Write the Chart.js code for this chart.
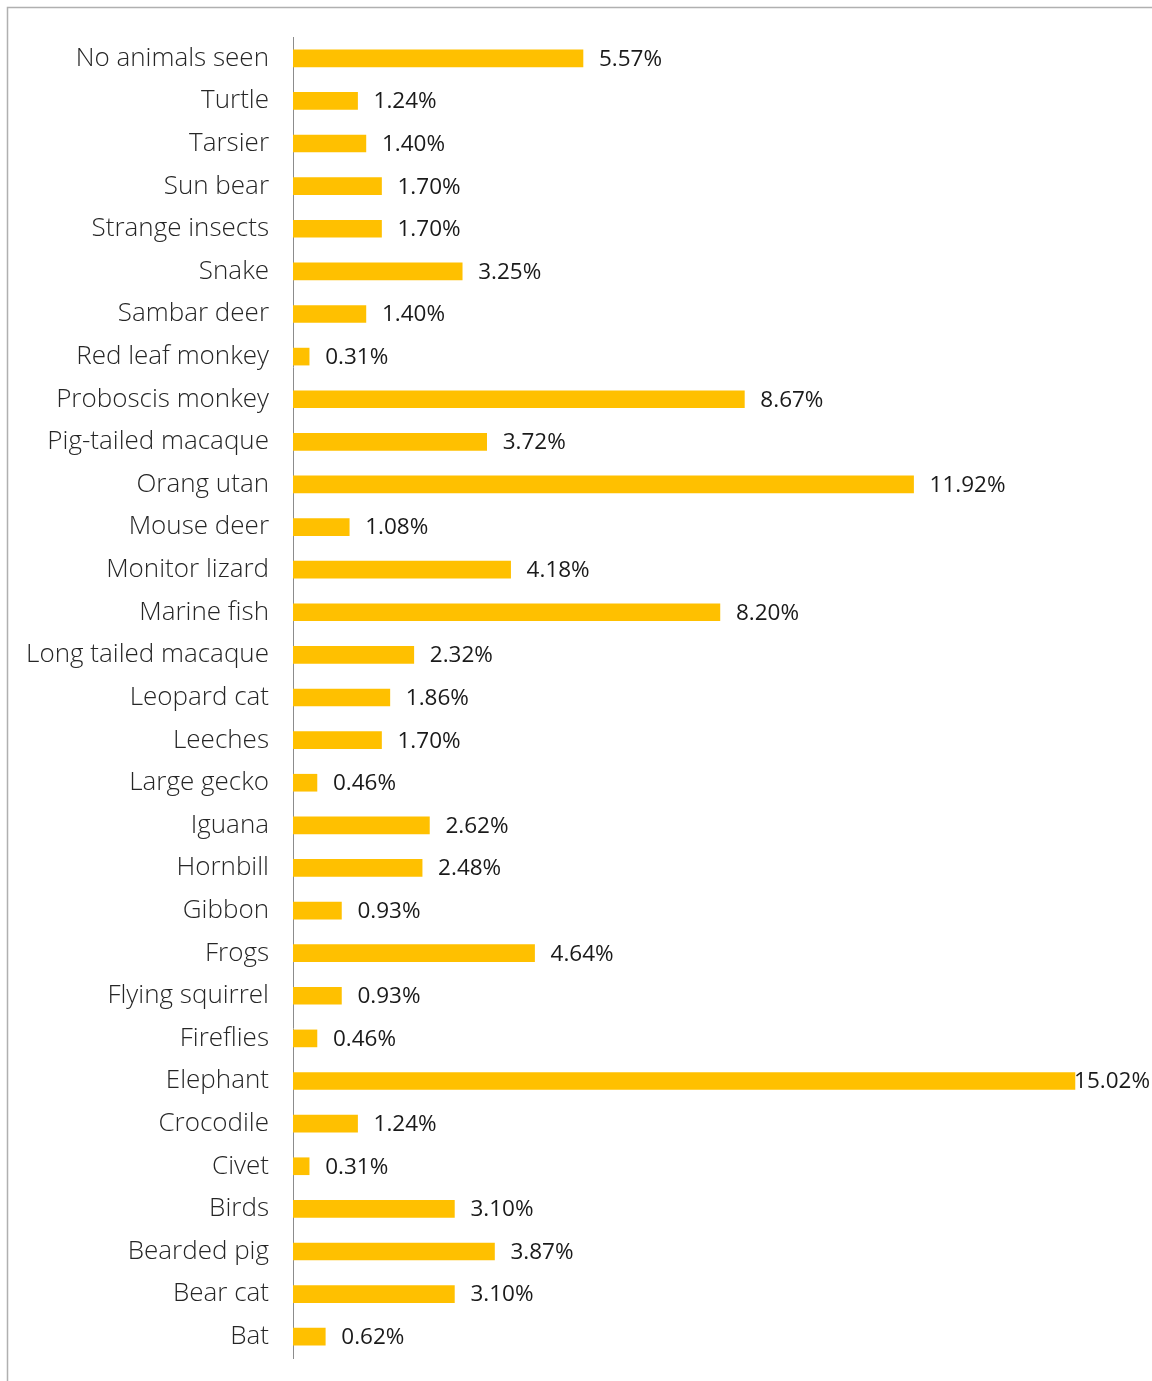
<!DOCTYPE html>
<html>
<head>
<meta charset="utf-8">
<script src="https://cdn.jsdelivr.net/npm/chart.js@4.4.1/dist/chart.umd.min.js"></script>
<style>
    html, body { margin: 0; padding: 0; background: #fff; }
    #wrap { position: relative; width: 1152px; height: 1381px; }
</style>
</head>
<body>
<div id="wrap"><canvas id="animals-chart"></canvas></div>
<script>
const categories = [
    'No animals seen', 'Turtle', 'Tarsier', 'Sun bear', 'Strange insects', 'Snake',
    'Sambar deer', 'Red leaf monkey', 'Proboscis monkey', 'Pig-tailed macaque',
    'Orang utan', 'Mouse deer', 'Monitor lizard', 'Marine fish', 'Long tailed macaque',
    'Leopard cat', 'Leeches', 'Large gecko', 'Iguana', 'Hornbill', 'Gibbon', 'Frogs',
    'Flying squirrel', 'Fireflies', 'Elephant', 'Crocodile', 'Civet', 'Birds',
    'Bearded pig', 'Bear cat', 'Bat'
];
const percentages = [
    5.57, 1.24, 1.40, 1.70, 1.70, 3.25,
    1.40, 0.31, 8.67, 3.72,
    11.92, 1.08, 4.18, 8.20, 2.32,
    1.86, 1.70, 0.46, 2.62, 2.48, 0.93, 4.64,
    0.93, 0.46, 15.02, 1.24, 0.31, 3.10,
    3.87, 3.10, 0.62
];
const xMin = 0;
const xMax = 16.5;

// thin grey frame along the top and left edge
const framePlugin = {
    id: 'frame',
    beforeDraw(chart) {
        const ctx = chart.ctx;
        ctx.save();
        ctx.strokeStyle = '#b0b0b0';
        ctx.lineWidth = 1.5;
        ctx.beginPath();
        ctx.moveTo(7.5, chart.height);
        ctx.lineTo(7.5, 7.5);
        ctx.lineTo(chart.width, 7.5);
        ctx.stroke();
        ctx.restore();
    }
};

// percentage labels to the right of each bar, pulled back in if they would run off the canvas
const valueLabels = {
    id: 'valueLabels',
    afterDatasetsDraw(chart) {
        const ctx = chart.ctx;
        const meta = chart.getDatasetMeta(0);
        ctx.save();
        ctx.font = '22.5px "Open Sans", "Noto Sans", sans-serif';
        ctx.fillStyle = '#1a1a1a';
        ctx.textBaseline = 'middle';
        ctx.textAlign = 'left';
        meta.data.forEach((bar, i) => {
            const text = percentages[i].toFixed(2) + '%';
            const w = ctx.measureText(text).width;
            const x = Math.min(bar.x + 16, chart.width - w - 2);
            ctx.fillText(text, x, bar.y + 1);
        });
        ctx.restore();
    }
};

new Chart(document.getElementById('animals-chart').getContext('2d'), {
    type: 'bar',
    data: {
        labels: categories,
        datasets: [{
            data: percentages,
            backgroundColor: '#FFC000',
            barThickness: 17,
            borderWidth: 0
        }]
    },
    options: {
        indexAxis: 'y',
        responsive: true,
        maintainAspectRatio: false,
        animation: false,
        layout: { padding: { top: 37, bottom: 23, left: 0, right: 0 } },
        plugins: {
            legend: { display: false },
            tooltip: { enabled: false }
        },
        scales: {
            x: {
                display: false,
                min: xMin,
                max: xMax
            },
            y: {
                afterFit(scale) {
                    // fixed label column; no extra room reserved for first/last label
                    scale.width = 293;
                    scale.paddingTop = 0;
                    scale.paddingBottom = 0;
                },
                grid: { display: false },
                border: { display: true, color: '#8c8c8c', width: 1 },
                ticks: {
                    color: '#262626',
                    padding: 16,
                    font: { family: '"Open Sans", "Noto Sans", sans-serif', size: 26, weight: '300' }
                }
            }
        }
    },
    plugins: [framePlugin, valueLabels]
});
</script>
</body>
</html>
